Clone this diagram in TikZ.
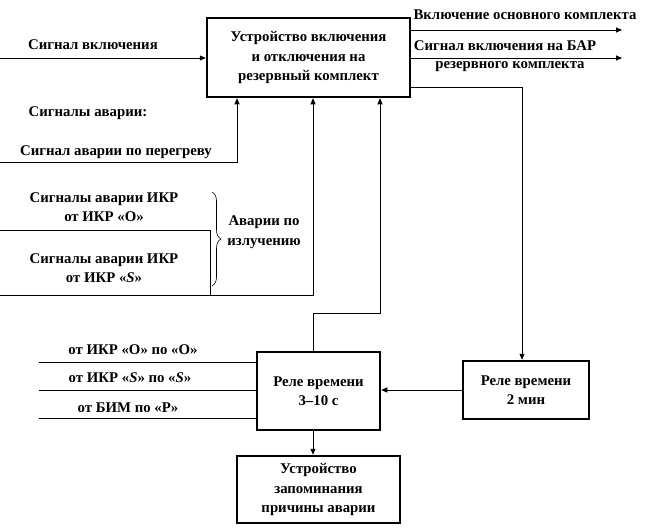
\documentclass[tikz,border=0pt]{standalone}
\usepackage{fontspec}
\setmainfont{Liberation Serif}
\usetikzlibrary{arrows.meta,decorations.pathreplacing}
\begin{document}
\begin{tikzpicture}[x=1pt,y=-1pt,
  every node/.style={font=\fontsize{14.8}{19.5}\selectfont\bfseries, inner sep=0pt},
  blk/.style={draw, line width=2.5pt, align=center},
  lbl/.style={align=center},
  conn/.style={line width=0.8pt},
  arr/.style={conn, -{Triangle[length=6pt,width=5pt]}}]
\useasboundingbox[fill=white] (0,0) rectangle (660,527);

% blocks
\node[blk, minimum width=203pt, minimum height=79pt] (dev) at (308.5,57.5) {Устройство включения\\и отключения на\\резервный комплект};
\node[blk, minimum width=123pt, minimum height=78pt] (r310) at (318.5,391) {Реле времени\\3–10 с};
\node[blk, minimum width=126pt, minimum height=58pt] (r2) at (526,390) {Реле времени\\2 мин};
\node[blk, minimum width=163pt, minimum height=67pt] (mem) at (318.5,489.5) {Устройство\\запоминания\\причины аварии};

% labels
\node[lbl] (t1) at (93,45) {Сигнал включения};
\node[lbl] (t2) at (88,113) {Сигналы аварии:};
\node[lbl] (t3) at (116,152) {Сигнал аварии по перегреву};
\node[lbl] (t4) at (104,207) {Сигналы аварии ИКР\\от ИКР «O»};
\node[lbl] (t5) at (104,268) {Сигналы аварии ИКР\\от ИКР «\textit{S}»};
\node[lbl] (t6) at (264,232) {Аварии по\\излучению};
\node[lbl] (t7) at (525,15) {Включение основного комплекта};
\node[lbl] (t8) at (505,46) {Сигнал включения на БАР};
\node[lbl] (t9) at (510,67) {резервного комплекта};
\node[lbl] (t10) at (133,350) {от ИКР «O» по «O»};
\node[lbl] (t11) at (130,378) {от ИКР «\textit{S}» по «\textit{S}»};
\node[lbl] (t12) at (128,408) {от БИМ по «P»};

% helper coordinates
\coordinate (inA) at (0,58);
\coordinate (inB) at (0,162);
\coordinate (inO) at (0,230);
\coordinate (inS) at (0,295);
\coordinate (jO) at (210,295);
\coordinate (xA) at (237,0);
\coordinate (xB) at (313,0);
\coordinate (xC) at (380,0);
\coordinate (xD) at (522,0);
\coordinate (yD) at (0,87);
\coordinate (bend) at (313,313);
\coordinate (out1) at (622,30);
\coordinate (out2) at (622,58);
\coordinate (i1) at (39,362);
\coordinate (i2) at (39,390);
\coordinate (i3) at (39,418);

% connectors
\draw[arr] (inA) -- (inA -| dev.west);
\draw[arr] (inB) -| (xA |- dev.south);
\draw[conn] (inO) -| (jO);
\draw[arr] (inS) -| (xB |- dev.south);
\draw[arr] (xB |- r310.north) -- (bend) -| (xC |- dev.south);
\draw[arr] (dev.east |- out1) -- (out1);
\draw[arr] (dev.east |- out2) -- (out2);
\draw[arr] (dev.east |- yD) -| (xD |- r2.north);
\draw[arr] (r2.west) -- (r310.east |- r2.west);
\draw[arr] (xB |- r310.south) -- (xB |- mem.north);
\draw[conn] (i1) -- (i1 -| r310.west);
\draw[conn] (i2) -- (i2 -| r310.west);
\draw[conn] (i3) -- (i3 -| r310.west);

% brace
\draw[line width=0.6pt, decorate, decoration={brace, amplitude=9pt}] (212,192) -- (212,286);
\end{tikzpicture}
\end{document}
